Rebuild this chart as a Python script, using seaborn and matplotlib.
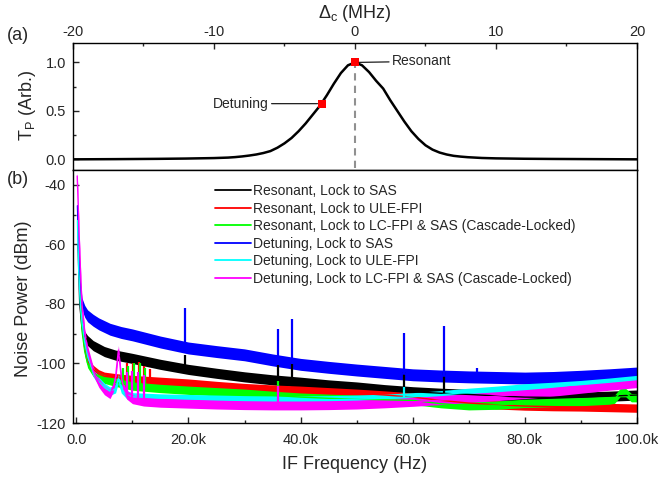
import numpy as np
import pandas as pd
import seaborn as sns
import matplotlib
matplotlib.use('Agg')
import matplotlib.pyplot as plt
from matplotlib.ticker import MultipleLocator, FuncFormatter

# ---- panel (a): transmission vs cavity detuning ----
det_mhz = [-20, -17, -14, -12, -10, -9, -8.5, -8, -7.5, -7, -6.5, -6, -5.5, -5, -4.5, -4, -3.5, -3, -2.5, -2, -1.5,
           -1, -0.5, 0, 0.5, 1, 1.5, 2, 2.5, 3, 3.5, 4, 4.5, 5, 5.5, 6, 6.5, 7, 7.5, 8, 9, 10, 12, 14, 17, 20]
tp = [0.0, 0.002, 0.005, 0.008, 0.013, 0.018, 0.023, 0.03, 0.039, 0.05, 0.065, 0.085, 0.12, 0.165, 0.22, 0.29, 0.37,
      0.46, 0.55, 0.66, 0.78, 0.89, 0.97, 1.0, 0.97, 0.9, 0.81, 0.73, 0.61, 0.5, 0.39, 0.29, 0.21, 0.145, 0.1, 0.07,
      0.05, 0.036, 0.028, 0.022, 0.014, 0.01, 0.006, 0.004, 0.002, 0.0]
mark_x = [0.0, -2.36]
mark_y = [1.0, 0.574]
mark_names = ['Resonant', 'Detuning']

# ---- panel (b): noise spectra (band centre) ----
blue_f = [200, 400, 700, 1000, 1500, 2000, 3000, 4000, 6000, 8000, 10000, 15000, 20000, 25000, 30000, 35000, 40000,
          45000, 50000, 55000, 60000, 65000, 70000, 75000, 80000, 85000, 90000, 95000, 100000]
blue_v = [-47, -62, -74, -80, -82.5, -84, -85.5, -86.7, -88.5, -89.6, -90.4, -92.8, -94.8, -96, -97.1, -98.8, -100.3,
          -101.3, -102.2, -103, -103.8, -104.2, -104.5, -104.7, -104.9, -104.7, -104.3, -103.8, -103.2]

black_f = [300, 600, 1000, 1500, 2000, 3000, 5000, 7000, 10000, 15000, 20000, 25000, 30000, 35000, 40000, 45000,
           50000, 55000, 60000, 65000, 70000, 75000, 80000, 85000, 90000, 95000, 100000]
black_v = [-60, -80, -88, -91, -92.3, -94, -96, -97.2, -98.3, -100.3, -102, -103.3, -104.5, -105.5, -106.3, -107.2,
           -107.9, -108.8, -109.5, -110, -110.4, -110.9, -111.3, -111.4, -111.3, -111, -110.6]

red_f = [500, 800, 1000, 1500, 2000, 3000, 4000, 5000, 7000, 10000, 15000, 20000, 25000, 30000, 35000, 40000, 45000,
         50000, 55000, 60000, 65000, 70000, 75000, 80000, 85000, 90000, 95000, 100000]
red_v = [-62, -80, -87, -95, -99, -102, -103.5, -104.3, -104.8, -105.4, -106, -106.6, -107.4, -108.1, -108.6, -109,
         -109.5, -110, -110.6, -111.3, -112.4, -113.3, -113.9, -114.3, -114.5, -114.6, -114.8, -115]

green_f = [500, 800, 1000, 1500, 2000, 3000, 4000, 5000, 7000, 10000, 15000, 20000, 25000, 30000, 35000, 40000, 45000,
           50000, 55000, 60000, 65000, 70000, 75000, 80000, 85000, 90000, 95000, 96000, 97000, 98000, 99000, 100000]
green_v = [-65, -82, -89, -96, -100, -103, -104.5, -105.3, -106.3, -107.6, -108.4, -109, -109.5, -110, -110.7, -111.3,
           -111.7, -112, -112.2, -112.4, -113.5, -114.2, -114, -113.4, -113.1, -112.8, -112.3, -112, -109.8, -109.8,
           -111.5, -111.5]

cyan_f = [200, 400, 700, 1000, 1500, 2000, 3000, 4000, 5000, 6000, 7000, 7500, 8000, 9000, 10000, 15000, 20000, 25000,
          30000, 35000, 40000, 45000, 50000, 55000, 60000, 65000, 70000, 75000, 80000, 85000, 90000, 95000, 100000]
cyan_v = [-52, -68, -80, -86, -93, -97.5, -103, -106, -108, -109.3, -108.5, -105, -108.5, -110.5, -111.2, -111.6,
          -111.8, -112, -112.2, -112.3, -112.3, -112.2, -112, -111.7, -111.2, -110.5, -109.7, -109, -108.2, -107.7,
          -107.1, -106.3, -105.4]

magenta_f = [150, 300, 500, 800, 1000, 1500, 2000, 3000, 4000, 5000, 6000, 6600, 7000, 7300, 7500, 7700, 8000, 8500,
             9000, 10000, 12000, 15000, 20000, 25000, 30000, 35000, 40000, 45000, 50000, 55000, 60000, 65000, 70000,
             75000, 80000, 85000, 90000, 95000, 100000]
magenta_v = [-37, -45, -57, -72, -80, -90, -95.5, -102.5, -106.5, -109, -110.3, -108, -104.5, -99, -95.5, -99, -104.5,
             -108.5, -110.5, -112, -112.8, -113.2, -113.5, -113.8, -114, -114.1, -114.1, -114, -113.8, -113.4, -112.9,
             -112.3, -111.6, -111, -110.3, -109.5, -108.5, -107.5, -106.6]

# narrow spurs: frequency, foot (band level) and tip
blue_spur_f = [19300, 36000, 38500, 58500, 65500, 71500]
blue_spur_lo = [-94.7, -99.3, -100.3, -103.7, -104.3, -104.5]
blue_spur_hi = [-81.5, -88.5, -85, -89.7, -87.5, -101.5]
black_spur_f = [19300, 36000, 38500, 58500, 65500]
black_spur_lo = [-102, -105.8, -106.2, -109.5, -110]
black_spur_hi = [-97, -100.5, -100, -103, -103]
red_spur_f = [6200, 9100, 10100, 11100, 12100, 13100]
red_spur_lo = [-104.6, -105.2, -105.4, -105.5, -105.6, -105.7]
red_spur_hi = [-104, -100, -100, -99.5, -101, -102]
green_spur_f = [8300, 9300, 10300, 11300, 12300, 36000]
green_spur_lo = [-107.2, -107.4, -107.6, -107.8, -108, -110.7]
green_spur_hi = [-101.5, -101, -100, -100, -101.5, -106]
cyan_spur_f = [58500]
cyan_spur_lo = [-111.2]
cyan_spur_hi = [-108]
magenta_spur_f = [9000, 10000, 11000, 12000, 36000]
magenta_spur_lo = [-110.5, -112, -112.3, -112.8, -114.1]
magenta_spur_hi = [-103, -102.5, -103, -104, -107.5]

series = [
    ('Resonant, Lock to SAS', '#000000', black_f, black_v, black_spur_f, black_spur_lo, black_spur_hi, 1.7),
    ('Resonant, Lock to ULE-FPI', '#ff0000', red_f, red_v, red_spur_f, red_spur_lo, red_spur_hi, 1.4),
    ('Resonant, Lock to LC-FPI & SAS (Cascade-Locked)', '#00ff00', green_f, green_v, green_spur_f, green_spur_lo, green_spur_hi, 1.4),
    ('Detuning, Lock to SAS', '#0000ff', blue_f, blue_v, blue_spur_f, blue_spur_lo, blue_spur_hi, 2.0),
    ('Detuning, Lock to ULE-FPI', '#00ffff', cyan_f, cyan_v, cyan_spur_f, cyan_spur_lo, cyan_spur_hi, 1.4),
    ('Detuning, Lock to LC-FPI & SAS (Cascade-Locked)', '#ff00ff', magenta_f, magenta_v, magenta_spur_f, magenta_spur_lo, magenta_spur_hi, 1.5),
]

sns.set_style('ticks')
plt.rcParams['font.family'] = ['Liberation Sans', 'DejaVu Sans']
plt.rcParams['axes.unicode_minus'] = False
plt.rcParams['mathtext.fontset'] = 'custom'
plt.rcParams['mathtext.rm'] = 'Liberation Sans'
plt.rcParams['axes.linewidth'] = 1.0
plt.rcParams['axes.edgecolor'] = 'black'

fig = plt.figure(figsize=(6.6, 4.79), dpi=100)
ax_a = fig.add_axes([0.1106, 0.6451, 0.8545, 0.2651])
ax_b = fig.add_axes([0.1106, 0.1169, 0.8545, 0.5282])

# ---- (a) ----
ax_a.vlines(mark_x[0], -0.09, mark_y[0], colors='#909090', lw=1.5, linestyles=(0, (3.5, 2.5)), zorder=1)
sns.lineplot(x=det_mhz, y=tp, ax=ax_a, color='black', lw=1.8, estimator=None, sort=False, zorder=2)
sns.scatterplot(x=mark_x, y=mark_y, ax=ax_a, marker='s', s=40, color='#ff0000', linewidth=0, zorder=3)
ax_a.annotate(mark_names[0], xy=(mark_x[0], mark_y[0]), xytext=(2.65, mark_y[0] + 0.01), va='center', ha='left',
              fontsize=10, arrowprops=dict(arrowstyle='-', lw=0.8, color='black', shrinkA=0, shrinkB=3))
ax_a.annotate(mark_names[1], xy=(mark_x[1], mark_y[1]), xytext=(-6.15, mark_y[1]), va='center', ha='right',
              fontsize=10, arrowprops=dict(arrowstyle='-', lw=0.8, color='black', shrinkA=0, shrinkB=3))
ax_a.set_xlim(-20, 20)
ax_a.set_ylim(-0.11, 1.2)
ax_a.xaxis.tick_top()
ax_a.xaxis.set_label_position('top')
ax_a.xaxis.set_major_locator(MultipleLocator(10))
ax_a.xaxis.set_minor_locator(MultipleLocator(5))
ax_a.yaxis.set_major_locator(MultipleLocator(0.5))
ax_a.yaxis.set_minor_locator(MultipleLocator(0.25))
ax_a.yaxis.set_major_formatter(FuncFormatter(lambda v, p: f'{v:.1f}'))
ax_a.tick_params(which='both', direction='in', top=True, bottom=False, left=True, right=False, labelsize=10.5)
ax_a.tick_params(which='major', length=4.5, width=1.0)
ax_a.tick_params(which='minor', length=2.5, width=1.0)
ax_a.tick_params(axis='x', pad=3)
ax_a.tick_params(axis='y', pad=5)
ax_a.set_xlabel('Δ$_\\mathrm{c}$ (MHz)', fontsize=13)
ax_a.set_ylabel('T$_\\mathrm{P}$ (Arb.)', fontsize=13)
ax_a.xaxis.set_label_coords(0.5, 1.2)
ax_a.yaxis.set_label_coords(-0.062, 0.51)

# ---- (b) ----
for name, col, f, v, sf, slo, shi, hw in series:
    fv = np.array(v)
    ax_b.fill_between(f, fv - hw, fv + hw, color=col, lw=0)
    sns.lineplot(x=f, y=v, ax=ax_b, color=col, lw=1.0, label=name, estimator=None, sort=False)
    ax_b.vlines(sf, slo, shi, colors=col, lw=1.6)

ax_b.set_xlim(-600, 100000)
ax_b.set_ylim(-120, -35)
ax_b.xaxis.set_major_locator(MultipleLocator(20000))
ax_b.xaxis.set_minor_locator(MultipleLocator(10000))
ax_b.yaxis.set_major_locator(MultipleLocator(20))
ax_b.yaxis.set_minor_locator(MultipleLocator(10))
ax_b.xaxis.set_major_formatter(FuncFormatter(lambda x, p: '0.0' if x == 0 else f'{x / 1000:.1f}k'))
ax_b.yaxis.set_major_formatter(FuncFormatter(lambda v, p: f'{v:.0f}'))
ax_b.tick_params(which='both', direction='in', top=False, bottom=True, left=True, right=False, labelsize=10.5)
ax_b.tick_params(which='major', length=4.5, width=1.0)
ax_b.tick_params(which='minor', length=2.5, width=1.0)
ax_b.tick_params(axis='x', pad=7)
ax_b.tick_params(axis='y', pad=5)
ax_b.set_xlabel('IF Frequency (Hz)', fontsize=13)
ax_b.set_ylabel('Noise Power (dBm)', fontsize=13)
ax_b.xaxis.set_label_coords(0.5, -0.13)
ax_b.yaxis.set_label_coords(-0.072, 0.49)

leg = ax_b.legend(loc='upper left', bbox_to_anchor=(0.252, 0.945), frameon=False, fontsize=10,
                  borderaxespad=0, borderpad=0, labelspacing=0.26, handlelength=2.6, handletextpad=0.15)
for ln in leg.get_lines():
    ln.set_linewidth(1.3)

for ax in (ax_a, ax_b):
    for sp in ax.spines.values():
        sp.set_visible(True)
        sp.set_linewidth(1.0)

fig.text(18 / 660, 1 - 36 / 479, '(a)', ha='center', va='center', fontsize=13)
fig.text(18 / 660, 1 - 180 / 479, '(b)', ha='center', va='center', fontsize=13)

fig.savefig('out.png', dpi=100)
